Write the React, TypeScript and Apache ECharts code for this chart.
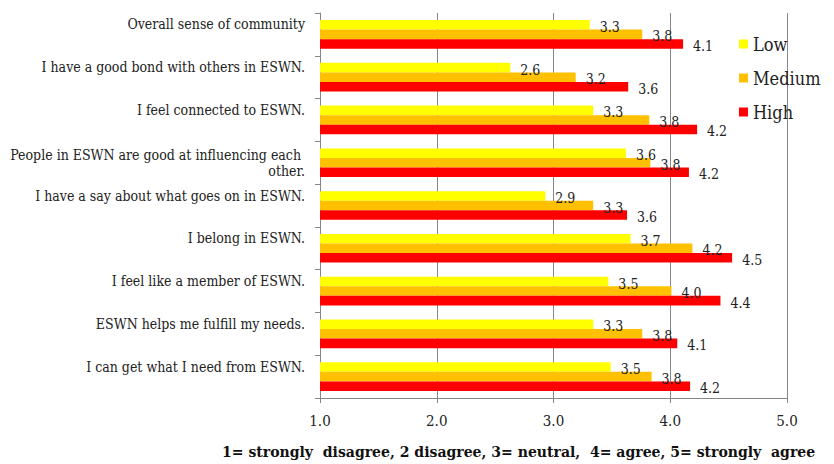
import React, { useEffect, useRef } from "react";
import * as echarts from "echarts";

const categories = [
  "Overall sense of community",
  "I have a good bond with others in ESWN.",
  "I feel connected to ESWN.",
  "People in ESWN are good at influencing each other.",
  "I have a say about what goes on in ESWN.",
  "I belong in ESWN.",
  "I feel like a member of ESWN.",
  "ESWN helps me fulfill my needs.",
  "I can get what I need from ESWN.",
];

const lowValues = [3.31, 2.63, 3.34, 3.62, 2.93, 3.66, 3.47, 3.34, 3.49];
const mediumValues = [3.76, 3.19, 3.82, 3.83, 3.34, 4.19, 4.01, 3.76, 3.84];
const highValues = [4.11, 3.64, 4.23, 4.16, 3.63, 4.53, 4.43, 4.06, 4.17];

const seriesNames = ["Low", "Medium", "High"];
const seriesColors = ["#FFFF00", "#FFC000", "#FF0000"];
const xTicks = [1, 2, 3, 4, 5];
const footnote =
  "1= strongly  disagree, 2 disagree, 3= neutral,  4= agree, 5= strongly  agree";

const FONT = "DejaVu Serif Condensed";

export default function App() {
  const ref = useRef<HTMLDivElement>(null);

  useEffect(() => {
    if (!ref.current) return;
    const chart = echarts.init(ref.current, undefined, { renderer: "svg" });
    const allValues = [lowValues, mediumValues, highValues];

    chart.setOption({
      animation: false,
      textStyle: { fontFamily: FONT },
      grid: { left: 320, right: 47, top: 13, bottom: 66, containLabel: false },
      legend: {
        orient: "vertical",
        left: 734,
        top: 30,
        itemWidth: 9,
        itemHeight: 9,
        itemGap: 16,
        icon: "rect",
        data: seriesNames,
        textStyle: { fontFamily: FONT, fontSize: 18, color: "#222" },
      },
      xAxis: {
        type: "value",
        min: xTicks[0],
        max: xTicks[xTicks.length - 1],
        interval: 1,
        axisLine: { show: true, lineStyle: { color: "#868686", width: 1 } },
        axisTick: { show: true, length: 5, lineStyle: { color: "#868686" } },
        splitLine: { show: true, lineStyle: { color: "#868686", width: 1 } },
        axisLabel: {
          fontFamily: FONT,
          fontSize: 15,
          color: "#222",
          margin: 15,
          formatter: (v: number) => v.toFixed(1),
        },
      },
      yAxis: {
        type: "category",
        inverse: true,
        data: categories,
        axisLine: { show: true, lineStyle: { color: "#868686", width: 1 } },
        axisTick: { show: true, length: 5, lineStyle: { color: "#868686" } },
        axisLabel: {
          fontFamily: FONT,
          fontSize: 14,
          color: "#222",
          margin: 15,
          width: 300,
          overflow: "break",
          lineHeight: 16,
          align: "right",
          formatter: (v: string) => (v.length > 45 ? v : "{s|" + v + "}"),
          rich: {
            s: {
              fontFamily: FONT,
              fontSize: 14,
              color: "#222",
              padding: [0, 0, 20, 0],
            },
          },
        },
      },
      series: seriesNames.map((name, i) => ({
        name,
        type: "bar",
        data: allValues[i],
        barGap: "0%",
        barCategoryGap: "33%",
        itemStyle: { color: seriesColors[i] },
        label: {
          show: true,
          position: "right",
          distance: 10,
          offset: [0, 2],
          fontFamily: FONT,
          fontSize: 14,
          color: "#222",
          formatter: (p: any) => Number(p.value).toFixed(1),
        },
      })),
      graphic: [
        {
          type: "text",
          left: 222,
          top: 443,
          style: {
            text: footnote,
            fontFamily: FONT,
            fontSize: 15.6,
            fontWeight: "bold",
            fill: "#111",
          },
        },
      ],
    });

    return () => chart.dispose();
  }, []);

  return <div ref={ref} style={{ width: 834, height: 464, marginTop: -8, marginLeft: -8 }} />;
}
